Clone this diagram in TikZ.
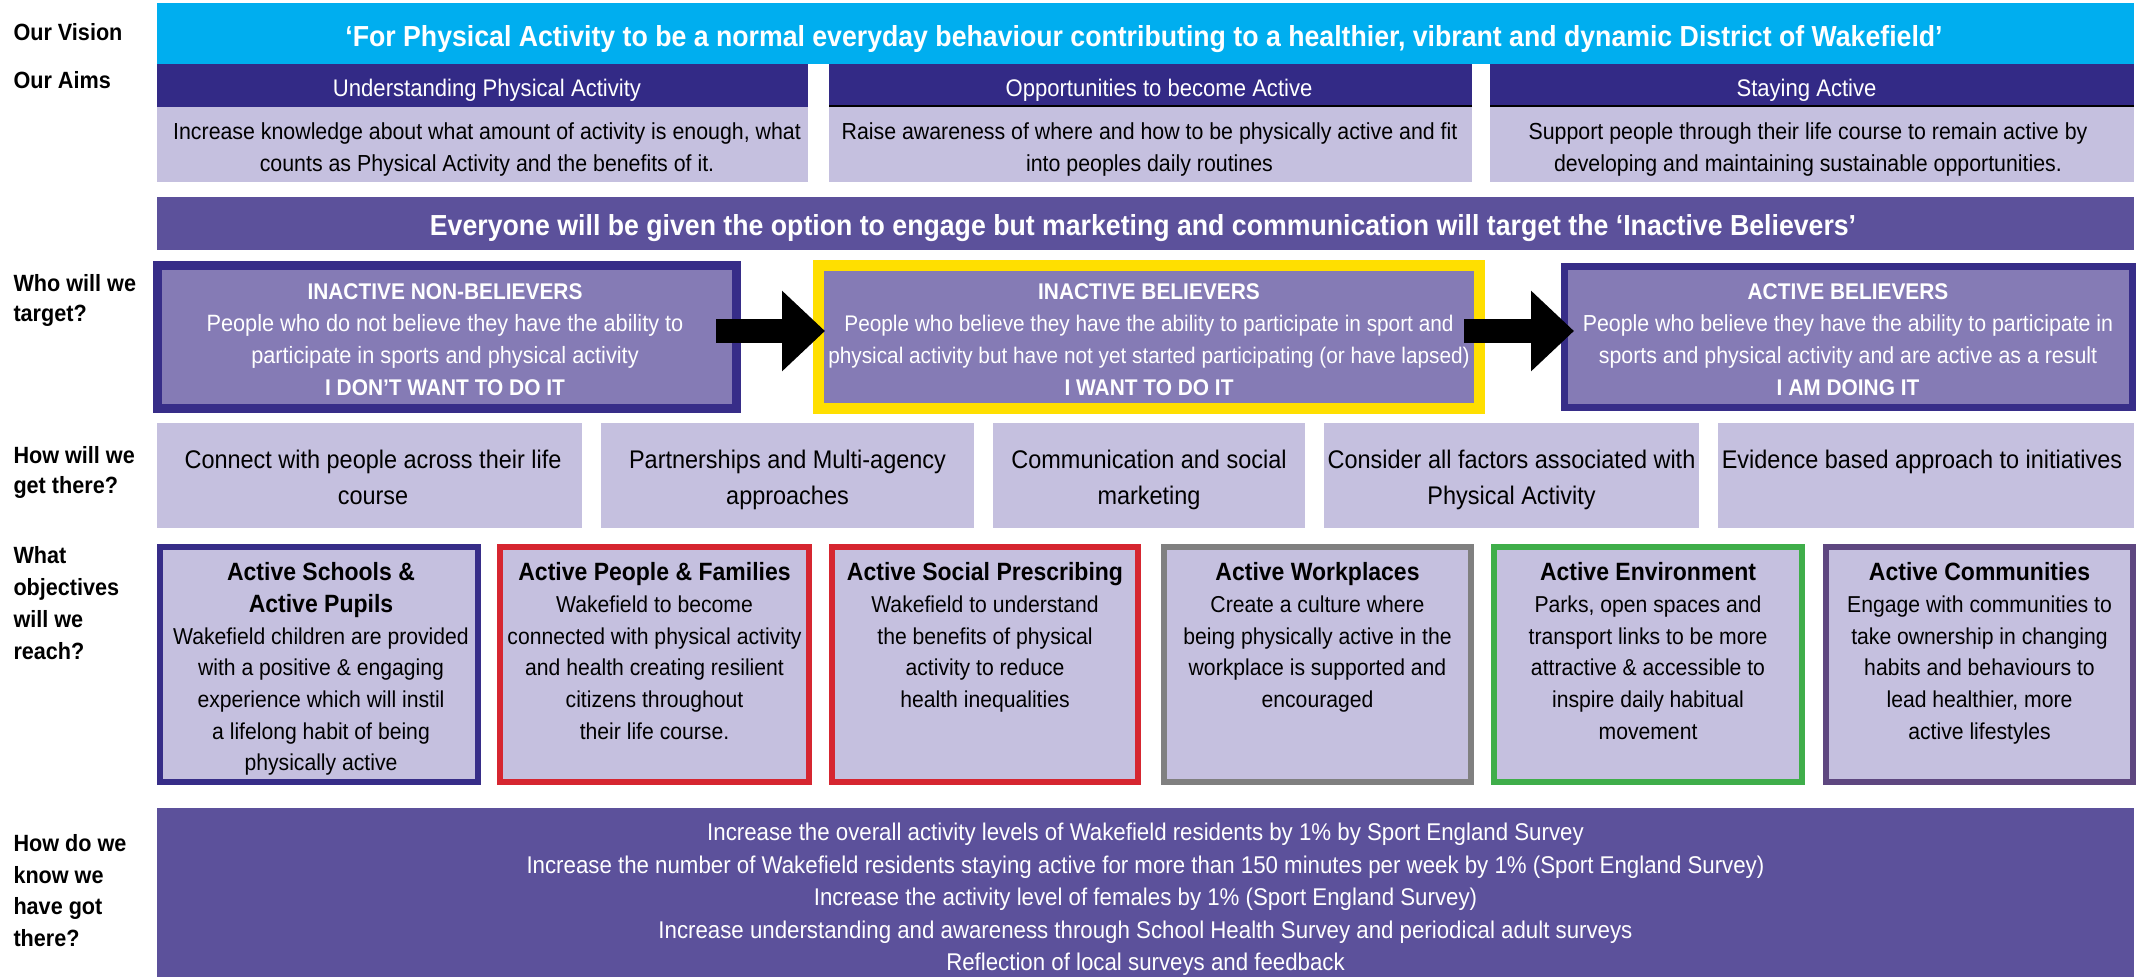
\documentclass[tikz,border=0pt]{standalone}
\usepackage{fontspec}
\setmainfont{Liberation Sans}[FakeStretch=0.92]
\usetikzlibrary{arrows.meta}
\definecolor{cvision}{HTML}{00AEEF}
\definecolor{cdark}{HTML}{332A86}
\definecolor{clav}{HTML}{C5C0DF}
\definecolor{cband}{HTML}{5C519B}
\definecolor{ctarget}{HTML}{857BB5}
\definecolor{cyellow}{HTML}{FFDF00}
\definecolor{cred}{HTML}{D62630}
\definecolor{cgray}{HTML}{808080}
\definecolor{cgreen}{HTML}{3FAE4A}
\definecolor{cpurp}{HTML}{5E4780}
\definecolor{cnavy}{HTML}{372D88}
\newcommand{\fs}[2]{\fontsize{#1pt}{#2pt}\selectfont}
\begin{document}
\begin{tikzpicture}[x=1pt,y=-1pt,
  box/.style={inner sep=0pt, outer sep=0pt, draw=none},
  txt/.style={inner sep=0pt, outer sep=0pt, align=center},
  lbl/.style={inner sep=0pt, outer sep=0pt, align=left, anchor=north west},
  tbox/.style={box, fill=ctarget},
  obox/.style={box, fill=clav, line width=6pt, minimum height=235pt},
  hbox/.style={box, fill=clav, minimum height=105pt},
  bigarrow/.style={line width=24pt, black, -{Triangle[length=43pt,width=78pt]}},
  white text/.style={text=white},
]
\useasboundingbox (0,0) rectangle (2136,977);
\fill[white] (0,0) rectangle (2136,977);

% ---------- left labels ----------
\node[lbl, font=\fs{23.5}{31}\bfseries] (l1) at (13.5,18.7) {\strut Our Vision};
\node[lbl, font=\fs{23.5}{31}\bfseries] (l2) at (13.5,66.7) {\strut Our Aims};
\node[lbl, font=\fs{23.5}{30}\bfseries] (l3) at (13.5,270.4) {\strut Who will we\\target?};
\node[lbl, font=\fs{23.5}{30}\bfseries] (l4) at (13.5,442.4) {\strut How will we\\get there?};
\node[lbl, font=\fs{23.5}{32}\bfseries] (l5) at (13.5,541) {\strut What\\objectives\\will we\\reach?};
\node[lbl, font=\fs{23.5}{31.7}\bfseries] (l6) at (13.5,829.2) {\strut How do we\\know we\\have got\\there?};

% ---------- vision ----------
\node[box, fill=cvision, minimum width=1977pt, minimum height=61pt] (vision) at (1145.5,33.5) {};
\node[txt, anchor=base, white text, font=\fs{29}{34}\bfseries] (visiont) at (1144,46.4)
  {‘For Physical Activity to be a normal everyday behaviour contributing to a healthier, vibrant and dynamic District of Wakefield’};

% ---------- aims ----------
\node[box, fill=cdark, minimum width=651pt, minimum height=43pt] (h1) at (482.5,85.5) {};
\node[box, fill=cdark, minimum width=643pt, minimum height=43pt] (h2) at (1150.5,85.5) {};
\node[box, fill=cdark, minimum width=644pt, minimum height=43pt] (h3) at (1812,85.5) {};
\node[box, fill=clav, minimum width=651pt, minimum height=75pt] (b1) at (482.5,144.5) {};
\node[box, fill=clav, minimum width=643pt, minimum height=75pt] (b2) at (1150.5,144.5) {};
\node[box, fill=clav, minimum width=644pt, minimum height=75pt] (b3) at (1812,144.5) {};
\draw[line width=2pt, black] ([yshift=1pt]h2.south west) -- ([yshift=1pt]h2.south east);
\draw[line width=2pt, black] ([yshift=1pt]h3.south west) -- ([yshift=1pt]h3.south east);
\node[txt, anchor=base, white text, font=\fs{24}{30}] (h1t) at (487,96) {Understanding Physical Activity};
\node[txt, anchor=base, white text, font=\fs{24}{30}] (h2t) at (1159,96) {Opportunities to become Active};
\node[txt, anchor=base, white text, font=\fs{24}{30}] (h3t) at (1806.5,96) {Staying Active};
\node[txt, anchor=north, font=\fs{23.2}{32}] (b1t) at (487,117)
  {\strut Increase knowledge about what amount of activity is enough, what\\counts as Physical Activity and the benefits of it.};
\node[txt, anchor=north, font=\fs{23.2}{32}] (b2t) at (1149.5,117)
  {\strut Raise awareness of where and how to be physically active and fit\\into peoples daily routines};
\node[txt, anchor=north, font=\fs{23.2}{32}] (b3t) at (1808,117)
  {\strut Support people through their life course to remain active by\\developing and maintaining sustainable opportunities.};

% ---------- banner ----------
\node[box, fill=cband, minimum width=1977pt, minimum height=53pt] (banner) at (1145.5,223.5) {};
\node[txt, anchor=base, white text, font=\fs{29}{34}\bfseries] (bannert) at (1143,235)
  {Everyone will be given the option to engage but marketing and communication will target the ‘Inactive Believers’};

% ---------- targets ----------
\node[tbox, draw=cnavy, line width=9pt, minimum width=579pt, minimum height=143pt] (t1) at (447,337) {};
\node[tbox, draw=cyellow, line width=11pt, minimum width=661pt, minimum height=143pt] (t2) at (1149,337) {};
\node[tbox, draw=cnavy, line width=7pt, minimum width=568pt, minimum height=141pt] (t3) at (1848.5,337) {};
\node[txt, anchor=north, white text, font=\fs{23.6}{32}] (t1t) at (445,277.2)
  {{\fs{22.7}{32}\bfseries\strut INACTIVE NON-BELIEVERS}\\People who do not believe they have the ability to\\participate in sports and physical activity\\{\fs{22.7}{32}\bfseries I DON’T WANT TO DO IT}};
\node[txt, anchor=north, white text, font=\fs{22.6}{32}] (t2t) at (1149,277.2)
  {{\fs{22.7}{32}\bfseries\strut INACTIVE BELIEVERS}\\People who believe they have the ability to participate in sport and\\physical activity but have not yet started participating (or have lapsed)\\{\fs{22.7}{32}\bfseries I WANT TO DO IT}};
\node[txt, anchor=north, white text, font=\fs{23.2}{32}] (t3t) at (1848,277.2)
  {{\fs{22.7}{32}\bfseries\strut ACTIVE BELIEVERS}\\People who believe they have the ability to participate in\\sports and physical activity and are active as a result\\{\fs{22.7}{32}\bfseries I AM DOING IT}};
\draw[bigarrow] ([shift={(-20.5,-6)}]t1.east) -- ([shift={(6.5,-6)}]t2.west);
\draw[bigarrow] ([shift={(-15.5,-6)}]t2.east) -- ([shift={(9.5,-6)}]t3.west);

% ---------- how ----------
\node[hbox, minimum width=425pt] (w1) at (369.5,475.5) {};
\node[hbox, minimum width=373pt] (w2) at (787.5,475.5) {};
\node[hbox, minimum width=312pt] (w3) at (1149,475.5) {};
\node[hbox, minimum width=375pt] (w4) at (1511.5,475.5) {};
\node[hbox, minimum width=416pt] (w5) at (1926,475.5) {};
\node[txt, anchor=north, font=\fs{25.5}{36}] (w1t) at (373,442.8) {\strut Connect with people across their life\\course};
\node[txt, anchor=north, font=\fs{25.5}{36}] (w2t) at (787.5,442.8) {\strut Partnerships and Multi-agency\\approaches};
\node[txt, anchor=north, font=\fs{25.5}{36}] (w3t) at (1149,442.8) {\strut Communication and social\\marketing};
\node[txt, anchor=north, font=\fs{25.5}{36}] (w4t) at (1511.5,442.8) {\strut Consider all factors associated with\\Physical Activity};
\node[txt, anchor=north, font=\fs{25.5}{36}] (w5t) at (1922,442.8) {\strut Evidence based approach to initiatives};

% ---------- objectives ----------
\node[obox, draw=cnavy, minimum width=318pt] (o1) at (319,664.5) {};
\node[obox, draw=cred, minimum width=309pt] (o2) at (654.5,664.5) {};
\node[obox, draw=cred, minimum width=306pt] (o3) at (985,664.5) {};
\node[obox, draw=cgray, minimum width=307pt] (o4) at (1317.5,664.5) {};
\node[obox, draw=cgreen, minimum width=308pt] (o5) at (1648,664.5) {};
\node[obox, draw=cpurp, minimum width=307pt] (o6) at (1979.5,664.5) {};
\node[txt, anchor=north, font=\fs{23}{31.7}] (o1t) at (321,558.6)
  {{\fs{25}{31.7}\bfseries\strut Active Schools \&}\\{\fs{25}{31.7}\bfseries Active Pupils}\\Wakefield children are provided\\with a positive \& engaging\\experience which will instil\\a lifelong habit of being\\physically active};
\node[txt, anchor=north, font=\fs{23}{31.7}] (o2t) at (654.5,558.6)
  {{\fs{25}{31.7}\bfseries\strut Active People \& Families}\\Wakefield to become\\connected with physical activity\\and health creating resilient\\citizens throughout\\their life course.};
\node[txt, anchor=north, font=\fs{23}{31.7}] (o3t) at (985,558.6)
  {{\fs{25}{31.7}\bfseries\strut Active Social Prescribing}\\Wakefield to understand\\the benefits of physical\\activity to reduce\\health inequalities};
\node[txt, anchor=north, font=\fs{23}{31.7}] (o4t) at (1317.5,558.6)
  {{\fs{25}{31.7}\bfseries\strut Active Workplaces}\\Create a culture where\\being physically active in the\\workplace is supported and\\encouraged};
\node[txt, anchor=north, font=\fs{23}{31.7}] (o5t) at (1648,558.6)
  {{\fs{25}{31.7}\bfseries\strut Active Environment}\\Parks, open spaces and\\transport links to be more\\attractive \& accessible to\\inspire daily habitual\\movement};
\node[txt, anchor=north, font=\fs{23}{31.7}] (o6t) at (1979.5,558.6)
  {{\fs{25}{31.7}\bfseries\strut Active Communities}\\Engage with communities to\\take ownership in changing\\habits and behaviours to\\lead healthier, more\\active lifestyles};

% ---------- measures ----------
\node[box, fill=cband, minimum width=1977pt, minimum height=169pt] (measure) at (1145.5,892.5) {};
\node[txt, anchor=north, white text, font=\fs{24.2}{32.5}] (measuret) at (1145.5,818)
  {\strut Increase the overall activity levels of Wakefield residents by 1\% by Sport England Survey\\
   Increase the number of Wakefield residents staying active for more than 150 minutes per week by 1\% (Sport England Survey)\\
   Increase the activity level of females by 1\% (Sport England Survey)\\
   Increase understanding and awareness through School Health Survey and periodical adult surveys\\
   Reflection of local surveys and feedback};
\end{tikzpicture}
\end{document}
